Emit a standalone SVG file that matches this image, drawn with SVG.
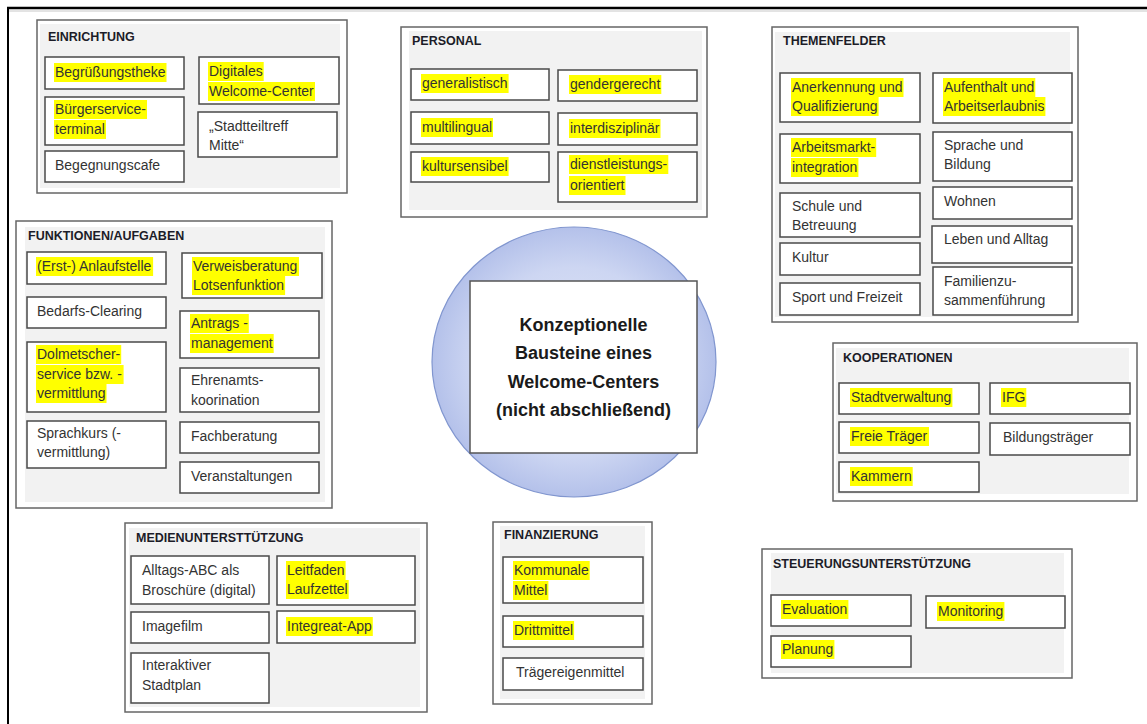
<svg xmlns="http://www.w3.org/2000/svg" width="1147" height="724" viewBox="0 0 1147 724">
<style>
.grp{fill:#fff;stroke:#666;stroke-width:1.5}
.bg{fill:#f2f2f2}
.box{fill:#fff;stroke:#4a4a4a;stroke-width:1.5}
.hl{fill:#ffff00}
.t{font-family:"Liberation Sans",Arial,sans-serif;font-size:14px;fill:#333}
.h{font-family:"Liberation Sans",Arial,sans-serif;font-size:12.5px;font-weight:bold;fill:#1c1c28}
.c{font-family:"Liberation Sans",Arial,sans-serif;font-size:18px;font-weight:bold;fill:#1a1a1a;text-anchor:middle}
</style>
<defs>
<radialGradient id="eg" cx="50%" cy="50%" r="50%">
<stop offset="0%" stop-color="#e2e7f8"/>
<stop offset="70%" stop-color="#cdd6f2"/>
<stop offset="100%" stop-color="#b4c1ea"/>
</radialGradient>
</defs>
<rect x="0" y="0" width="1147" height="724" fill="#fff"/>
<g id="frame">
<line x1="7" y1="8" x2="1147" y2="8" stroke="#000" stroke-width="2.5"/>
<line x1="9" y1="11" x2="1147" y2="11" stroke="#c8c8c8" stroke-width="1"/>
<line x1="8" y1="7" x2="8" y2="724" stroke="#000" stroke-width="2"/>
</g>
<g id="connectors"></g>

<g id="einrichtung">
<rect class="grp" x="37" y="20" width="310" height="173"/>
<rect class="bg" x="40" y="24" width="300" height="164"/>
<text class="h" x="48" y="41">EINRICHTUNG</text>
<g id="e1"><rect class="box" x="45" y="57" width="139" height="32"/><rect class="hl" x="54" y="63" width="112.5" height="19"/><text class="t" x="55" y="77">Begrüßungstheke</text></g>
<g id="e2"><rect class="box" x="45" y="97" width="139" height="48"/><rect class="hl" x="54" y="100" width="93" height="19"/><rect class="hl" x="54" y="120" width="52" height="19"/><text class="t"><tspan x="55" y="114">Bürgerservice-</tspan><tspan x="55" y="134">terminal</tspan></text></g>
<g id="e3"><rect class="box" x="45" y="151" width="139" height="31"/><text class="t" x="55" y="170">Begegnungscafe</text></g>
<g id="e4"><rect class="box" x="199" y="57" width="140" height="47"/><rect class="hl" x="208" y="62" width="55.7" height="19"/><rect class="hl" x="208" y="82" width="107" height="19"/><text class="t"><tspan x="209" y="76">Digitales</tspan><tspan x="209" y="96">Welcome-Center</tspan></text></g>
<g id="e5"><rect class="box" x="198" y="112" width="139" height="45"/><text class="t"><tspan x="209" y="131">„Stadtteiltreff</tspan><tspan x="209" y="150">Mitte“</tspan></text></g>
</g>

<g id="personal">
<rect class="grp" x="401" y="27" width="306" height="190"/>
<rect class="bg" x="409" y="31" width="293" height="179"/>
<text class="h" x="412" y="45">PERSONAL</text>
<g id="p1"><rect class="box" x="411" y="69" width="138" height="31"/><rect class="hl" x="421" y="74" width="87.6" height="19"/><text class="t" x="422" y="88">generalistisch</text></g>
<g id="p2"><rect class="box" x="558" y="70" width="139" height="31"/><rect class="hl" x="569" y="75" width="92.3" height="19"/><text class="t" x="570" y="89">gendergerecht</text></g>
<g id="p3"><rect class="box" x="411" y="112" width="138" height="32"/><rect class="hl" x="421" y="118" width="72" height="19"/><text class="t" x="422" y="132">multilingual</text></g>
<g id="p4"><rect class="box" x="558" y="113" width="139" height="32"/><rect class="hl" x="569" y="119" width="91.5" height="19"/><text class="t" x="570" y="133">interdisziplinär</text></g>
<g id="p5"><rect class="box" x="411" y="152" width="138" height="30"/><rect class="hl" x="421" y="157" width="87.6" height="19"/><text class="t" x="422" y="171">kultursensibel</text></g>
<g id="p6"><rect class="box" x="558" y="152" width="139" height="50"/><rect class="hl" x="569" y="155" width="99.3" height="19"/><rect class="hl" x="569" y="176" width="56.5" height="19"/><text class="t"><tspan x="570" y="169">dienstleistungs-</tspan><tspan x="570" y="190">orientiert</tspan></text></g>
</g>

<g id="themenfelder">
<rect class="grp" x="772" y="27" width="306" height="295"/>
<rect class="bg" x="775" y="32" width="295" height="285"/>
<text class="h" x="783" y="45">THEMENFELDER</text>
<g id="t1"><rect class="box" x="780" y="73" width="140" height="49"/><rect class="hl" x="791" y="78" width="112.5" height="19"/><rect class="hl" x="791" y="97" width="87.6" height="19"/><text class="t"><tspan x="792" y="92">Anerkennung und</tspan><tspan x="792" y="111">Qualifizierung</tspan></text></g>
<g id="t2"><rect class="box" x="780" y="134" width="140" height="49"/><rect class="hl" x="791" y="138" width="85.2" height="19"/><rect class="hl" x="791" y="158" width="67.4" height="19"/><text class="t"><tspan x="792" y="152">Arbeitsmarkt-</tspan><tspan x="792" y="172">integration</tspan></text></g>
<g id="t3"><rect class="box" x="780" y="193" width="140" height="44"/><text class="t"><tspan x="792" y="211">Schule und</tspan><tspan x="792" y="230">Betreuung</tspan></text></g>
<g id="t4"><rect class="box" x="780" y="243" width="140" height="32"/><text class="t" x="792" y="262">Kultur</text></g>
<g id="t5"><rect class="box" x="780" y="283" width="140" height="32"/><text class="t" x="792" y="302">Sport und Freizeit</text></g>
<g id="t6"><rect class="box" x="933" y="73" width="139" height="50"/><rect class="hl" x="943" y="78" width="92.3" height="19"/><rect class="hl" x="943" y="97" width="102.4" height="19"/><text class="t"><tspan x="944" y="92">Aufenthalt und</tspan><tspan x="944" y="111">Arbeitserlaubnis</tspan></text></g>
<g id="t7"><rect class="box" x="933" y="132" width="139" height="49"/><text class="t"><tspan x="944" y="150">Sprache und</tspan><tspan x="944" y="169">Bildung</tspan></text></g>
<g id="t8"><rect class="box" x="933" y="187" width="139" height="32"/><text class="t" x="944" y="206">Wohnen</text></g>
<g id="t9"><rect class="box" x="932" y="226" width="140" height="37"/><text class="t" x="944" y="244">Leben und Alltag</text></g>
<g id="t10"><rect class="box" x="933" y="267" width="139" height="48"/><text class="t"><tspan x="944" y="286">Familienzu-</tspan><tspan x="944" y="305">sammenführung</tspan></text></g>
</g>

<g id="funktionen">
<rect class="grp" x="16" y="221" width="316" height="287"/>
<rect class="bg" x="25" y="227" width="300" height="275"/>
<text class="h" x="28" y="240">FUNKTIONEN/AUFGABEN</text>
<g id="f1"><rect class="box" x="27" y="252" width="139" height="32"/><rect class="hl" x="36" y="257" width="117.1" height="19"/><text class="t" x="37" y="271">(Erst-) Anlaufstelle</text></g>
<g id="f2"><rect class="box" x="27" y="297" width="139" height="31"/><text class="t" x="37" y="316">Bedarfs-Clearing</text></g>
<g id="f3"><rect class="box" x="27" y="342" width="139" height="70"/><rect class="hl" x="36" y="345" width="85.2" height="19"/><rect class="hl" x="36" y="365" width="87.6" height="19"/><rect class="hl" x="36" y="384" width="70.5" height="19"/><text class="t"><tspan x="37" y="359">Dolmetscher-</tspan><tspan x="37" y="379">service bzw. -</tspan><tspan x="37" y="398">vermittlung</tspan></text></g>
<g id="f4"><rect class="box" x="27" y="421" width="139" height="47"/><text class="t"><tspan x="37" y="438">Sprachkurs (-</tspan><tspan x="37" y="457">vermittlung)</tspan></text></g>
<g id="f5"><rect class="box" x="182" y="253" width="140" height="45"/><rect class="hl" x="192" y="257" width="107" height="19"/><rect class="hl" x="192" y="276" width="93.1" height="19"/><text class="t"><tspan x="193" y="271">Verweisberatung</tspan><tspan x="193" y="290">Lotsenfunktion</tspan></text></g>
<g id="f6"><rect class="box" x="180" y="311" width="139" height="47"/><rect class="hl" x="190" y="314" width="58.8" height="19"/><rect class="hl" x="190" y="334" width="83.7" height="19"/><text class="t"><tspan x="191" y="328">Antrags -</tspan><tspan x="191" y="348">management</tspan></text></g>
<g id="f7"><rect class="box" x="180" y="368" width="139" height="44"/><text class="t"><tspan x="191" y="385">Ehrenamts-</tspan><tspan x="191" y="405">koorination</tspan></text></g>
<g id="f8"><rect class="box" x="180" y="422" width="139" height="31"/><text class="t" x="191" y="441">Fachberatung</text></g>
<g id="f9"><rect class="box" x="180" y="462" width="139" height="31"/><text class="t" x="191" y="481">Veranstaltungen</text></g>
</g>

<g id="kooperationen">
<rect class="grp" x="833" y="343" width="304" height="158"/>
<rect class="bg" x="836" y="348" width="293" height="146"/>
<text class="h" x="843" y="362">KOOPERATIONEN</text>
<g id="k1"><rect class="box" x="839" y="383" width="140" height="31"/><rect class="hl" x="850" y="388" width="102.4" height="19"/><text class="t" x="851" y="402">Stadtverwaltung</text></g>
<g id="k2"><rect class="box" x="839" y="422" width="140" height="31"/><rect class="hl" x="850" y="427" width="79" height="19"/><text class="t" x="851" y="441">Freie Träger</text></g>
<g id="k3"><rect class="box" x="839" y="462" width="140" height="30"/><rect class="hl" x="850" y="467" width="62.7" height="19"/><text class="t" x="851" y="481">Kammern</text></g>
<g id="k4"><rect class="box" x="990" y="383" width="140" height="31"/><rect class="hl" x="1001" y="388" width="25.3" height="19"/><text class="t" x="1002" y="402">IFG</text></g>
<g id="k5"><rect class="box" x="990" y="423" width="140" height="32"/><text class="t" x="1003" y="442">Bildungsträger</text></g>
</g>

<g id="medien">
<rect class="grp" x="125" y="523" width="302" height="189"/>
<rect class="bg" x="129" y="528" width="291" height="179"/>
<text class="h" x="136" y="542">MEDIENUNTERSTTÜTZUNG</text>
<g id="m1"><rect class="box" x="131" y="556" width="138" height="48"/><text class="t"><tspan x="142" y="575">Alltags-ABC als</tspan><tspan x="142" y="595">Broschüre (digital)</tspan></text></g>
<g id="m2"><rect class="box" x="131" y="612" width="138" height="31"/><text class="t" x="142" y="631">Imagefilm</text></g>
<g id="m3"><rect class="box" x="131" y="653" width="138" height="50"/><text class="t"><tspan x="142" y="670">Interaktiver</tspan><tspan x="142" y="690">Stadtplan</tspan></text></g>
<g id="m4"><rect class="box" x="277" y="556" width="138" height="49"/><rect class="hl" x="286" y="561" width="59.6" height="19"/><rect class="hl" x="286" y="580" width="62.7" height="19"/><text class="t"><tspan x="287" y="575">Leitfaden</tspan><tspan x="287" y="594">Laufzettel</tspan></text></g>
<g id="m5"><rect class="box" x="277" y="611" width="138" height="32"/><rect class="hl" x="286" y="617" width="86.8" height="19"/><text class="t" x="287" y="631">Integreat-App</text></g>
</g>

<g id="finanzierung">
<rect class="grp" x="493" y="522" width="159" height="182"/>
<rect class="bg" x="500" y="526" width="145" height="173"/>
<text class="h" x="504" y="539">FINANZIERUNG</text>
<g id="fi1"><rect class="box" x="503" y="557" width="140" height="46"/><rect class="hl" x="513" y="561" width="76.7" height="19"/><rect class="hl" x="513" y="581" width="35.4" height="19"/><text class="t"><tspan x="514" y="575">Kommunale</tspan><tspan x="514" y="595">Mittel</tspan></text></g>
<g id="fi2"><rect class="box" x="503" y="616" width="140" height="31"/><rect class="hl" x="513" y="621" width="61.1" height="19"/><text class="t" x="514" y="635">Drittmittel</text></g>
<g id="fi3"><rect class="box" x="503" y="658" width="140" height="32"/><text class="t" x="516" y="677">Trägereigenmittel</text></g>
</g>

<g id="steuerung">
<rect class="grp" x="762" y="549" width="310" height="129"/>
<rect class="bg" x="771" y="553" width="293" height="120"/>
<text class="h" x="773" y="568">STEUERUNGSUNTERSTÜTZUNG</text>
<g id="s1"><rect class="box" x="771" y="595" width="140" height="31"/><rect class="hl" x="781" y="600" width="67.4" height="19"/><text class="t" x="782" y="614">Evaluation</text></g>
<g id="s2"><rect class="box" x="926" y="596" width="139" height="32"/><rect class="hl" x="937" y="602" width="67.4" height="19"/><text class="t" x="938" y="616">Monitoring</text></g>
<g id="s3"><rect class="box" x="771" y="636" width="140" height="31"/><rect class="hl" x="781" y="640" width="53.4" height="19"/><text class="t" x="782" y="654">Planung</text></g>
</g>

<g id="center">
<ellipse cx="574" cy="362" rx="142" ry="135" fill="url(#eg)" stroke="#8196cf" stroke-width="1.2"/>
<rect x="470" y="281" width="227" height="172" fill="#fff" stroke="#555" stroke-width="1.5"/>
<text class="c"><tspan x="583.5" y="331">Konzeptionelle</tspan><tspan x="583.5" y="359">Bausteine eines</tspan><tspan x="583.5" y="388">Welcome-Centers</tspan><tspan x="583.5" y="416">(nicht abschließend)</tspan></text>
</g>
</svg>
